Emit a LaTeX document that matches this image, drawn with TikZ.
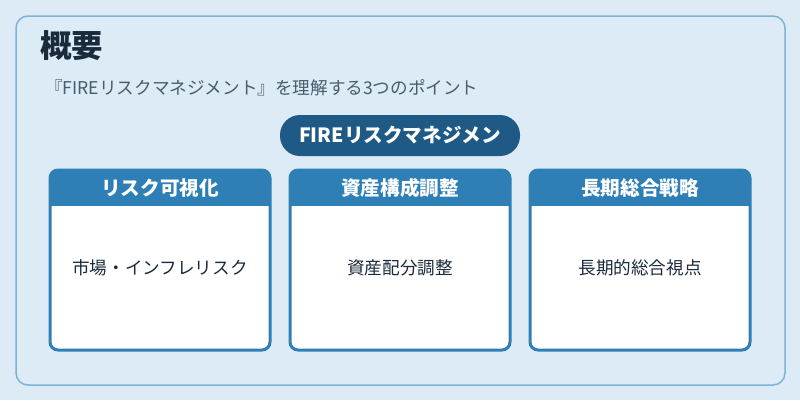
\documentclass[tikz,border=0pt]{standalone}
\usepackage{fontspec}
\setmainfont{Noto Sans CJK JP}
\definecolor{bg}{HTML}{DCEBF6}
\definecolor{panelline}{HTML}{7FB3D5}
\definecolor{hdr}{HTML}{2E7FB6}
\definecolor{pill}{HTML}{1F5A86}
\definecolor{ink}{HTML}{1B2B3B}
\definecolor{sub}{HTML}{4A5B6B}
\tikzset{
  card/.style={draw=hdr, line width=3pt, fill=white, rounded corners=8pt},
  hdrtext/.style={text=white, font=\bfseries\fontsize{19.6}{22}\selectfont, anchor=center},
  bodytext/.style={text=ink, font=\fontsize{17.6}{20}\selectfont, anchor=center},
}
\begin{document}
\begin{tikzpicture}[x=1pt,y=-1pt]
\fill[bg] (0,0) rectangle (800,400);
\useasboundingbox (0,0) rectangle (800,400);
\draw[panelline, line width=1.5pt, fill=bg, rounded corners=12pt] (16,16) rectangle (785,385);
\node[anchor=west, text=ink, font=\bfseries\fontsize{31.5}{34}\selectfont, inner sep=0] (title) at (40,46) {概要};
\node[anchor=west, text=sub, font=\fontsize{17.6}{20}\selectfont, inner sep=0] (subtitle) at (45,88) {『FIREリスクマネジメント』を理解する3つのポイント};
\fill[pill, rounded corners=20pt] (280,115) rectangle (520,156);
\node[text=white, font=\bfseries\fontsize{19.6}{22}\selectfont] (pilltext) at (400,135) {FIREリスクマネジメン};
\foreach \x/\name/\h/\b in {50/c1/リスク可視化/市場・インフレリスク, 290/c2/資産構成調整/資産配分調整, 530/c3/長期総合戦略/長期的総合視点}{
  \draw[card] (\x,170) rectangle (\x+220,350);
  \begin{scope}
    \clip[rounded corners=8pt] (\x,170) rectangle (\x+220,350);
    \fill[hdr] (\x,168) rectangle (\x+220,206);
  \end{scope}
  \node[hdrtext] (\name h) at (\x+110,188) {\h};
  \node[bodytext] (\name b) at (\x+110,268) {\b};
}
\end{tikzpicture}
\end{document}
